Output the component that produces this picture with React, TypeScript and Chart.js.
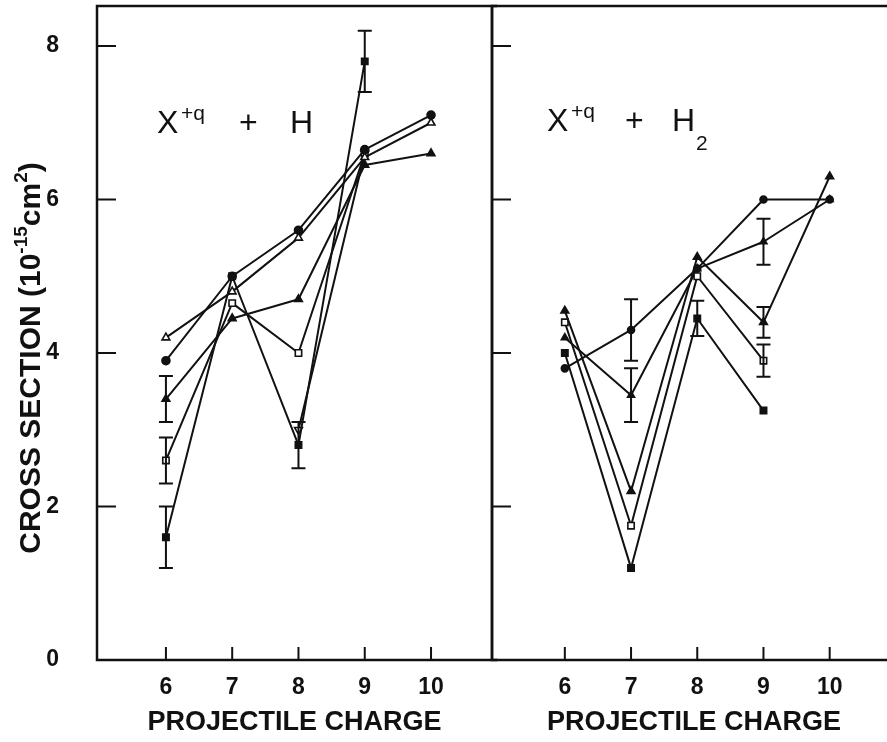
import React, { useEffect, useRef } from "react";
import { Chart, registerables } from "chart.js";

Chart.register(...registerables);

// ---------- data ----------
const CHARGES = [6, 7, 8, 9, 10];
const X_TICKS = [6, 7, 8, 9, 10];
const Y_TICKS = [0, 2, 4, 6, 8];

// Left panel: X^{+q} + H
const H_OPEN_TRI = [4.2, 4.8, 5.5, 6.55, 7.0];
const H_CIRCLE = [3.9, 5.0, 5.6, 6.65, 7.1];
const H_TRI = [3.4, 4.45, 4.7, 6.45, 6.6];
const H_TRI_ERR = [0.3, 0, 0, 0, 0];
const H_OPEN_SQ = [2.6, 4.65, 4.0, 6.6, null];
const H_OPEN_SQ_ERR = [0.3, 0, 0, 0, 0];
const H_SQ = [1.6, 5.0, 2.8, 7.8, null];
const H_SQ_ERR = [0.4, 0, 0.3, 0.4, 0];
const H_INV_TRI = [null, null, 3.0, 6.6, null];

// Right panel: X^{+q} + H2
const H2_TRI = [4.55, 2.2, 5.25, 4.4, 6.3];
const H2_TRI_ERR = [0, 0, 0, 0.2, 0];
const H2_OPEN_SQ = [4.4, 1.75, 5.0, 3.9, null];
const H2_OPEN_SQ_ERR = [0, 0, 0, 0.21, 0];
const H2_SQ = [4.0, 1.2, 4.45, 3.25, null];
const H2_SQ_ERR = [0, 0, 0.23, 0, 0];
const H2_CIRCLE = [3.8, 4.3, 5.1, 6.0, 6.0];
const H2_CIRCLE_ERR = [0, 0.4, 0, 0, 0];
const H2_SMALL_TRI = [4.2, 3.45, 5.1, 5.45, 6.0];
const H2_SMALL_TRI_ERR = [0, 0.35, 0, 0.3, 0];

const X_TITLE = "PROJECTILE CHARGE";
const Y_TITLE_PARTS = [
  { t: "CROSS SECTION (10", sup: false },
  { t: "-15", sup: true },
  { t: "cm", sup: false },
  { t: "2", sup: true },
  { t: ")", sup: false },
];

// ---------- styling ----------
const INK = "#111";
const FONT = "'Liberation Sans', Arial, sans-serif";

type Series = {
  values: (number | null)[];
  errs?: number[];
  style: "triangle" | "circle" | "rect";
  filled: boolean;
  rotation?: number;
  radius?: number;
};

function makeDataset(s: Series) {
  return {
    data: CHARGES.map((c, i) => ({ x: c, y: s.values[i] })),
    borderColor: INK,
    borderWidth: 2,
    pointStyle: s.style,
    pointRadius: s.radius ?? 4.5,
    pointRotation: s.rotation ?? 0,
    pointBackgroundColor: s.filled ? INK : "#fff",
    pointBorderColor: INK,
    pointBorderWidth: 1.6,
    spanGaps: false,
    tension: 0,
    fill: false,
    errs: s.errs,
  };
}

const LEFT_SERIES: Series[] = [
  { values: H_OPEN_TRI, style: "triangle", filled: false },
  { values: H_CIRCLE, style: "circle", filled: true, radius: 4 },
  { values: H_TRI, errs: H_TRI_ERR, style: "triangle", filled: true },
  { values: H_OPEN_SQ, errs: H_OPEN_SQ_ERR, style: "rect", filled: false, radius: 4.5 },
  { values: H_SQ, errs: H_SQ_ERR, style: "rect", filled: true, radius: 4.5 },
  { values: H_INV_TRI, style: "triangle", filled: false, rotation: 180 },
];

const RIGHT_SERIES: Series[] = [
  { values: H2_TRI, errs: H2_TRI_ERR, style: "triangle", filled: true },
  { values: H2_OPEN_SQ, errs: H2_OPEN_SQ_ERR, style: "rect", filled: false, radius: 4.5 },
  { values: H2_SQ, errs: H2_SQ_ERR, style: "rect", filled: true, radius: 4.5 },
  { values: H2_CIRCLE, errs: H2_CIRCLE_ERR, style: "circle", filled: true, radius: 3.5 },
  { values: H2_SMALL_TRI, errs: H2_SMALL_TRI_ERR, style: "triangle", filled: true, radius: 4 },
];

// ---------- plugins ----------
function errorBarPlugin() {
  return {
    id: "errbars",
    afterDatasetsDraw(chart: any) {
      const { ctx, scales } = chart;
      const x = scales.x, y = scales.y;
      ctx.save();
      ctx.strokeStyle = INK;
      ctx.lineWidth = 2;
      chart.data.datasets.forEach((ds: any) => {
        if (!ds.errs) return;
        ds.data.forEach((p: any, i: number) => {
          const e = ds.errs[i];
          if (!e || p.y == null) return;
          const px = x.getPixelForValue(p.x);
          const top = y.getPixelForValue(p.y + e);
          const bot = y.getPixelForValue(p.y - e);
          ctx.beginPath();
          ctx.moveTo(px, top);
          ctx.lineTo(px, bot);
          ctx.moveTo(px - 7, top);
          ctx.lineTo(px + 7, top);
          ctx.moveTo(px - 7, bot);
          ctx.lineTo(px + 7, bot);
          ctx.stroke();
        });
      });
      ctx.restore();
    },
  };
}

function framePlugin(sides: { left: boolean; right: boolean }) {
  return {
    id: "frame",
    beforeDatasetsDraw(chart: any) {
      const { ctx, chartArea: a, scales } = chart;
      ctx.save();
      ctx.strokeStyle = INK;
      ctx.lineWidth = 2.5;
      ctx.lineCap = "square";
      ctx.beginPath();
      ctx.moveTo(a.left, a.top);
      ctx.lineTo(a.right + 4, a.top);
      ctx.moveTo(a.left, a.bottom);
      ctx.lineTo(a.right + 4, a.bottom);
      if (sides.left) {
        ctx.moveTo(a.left, a.top);
        ctx.lineTo(a.left, a.bottom);
      }
      if (sides.right) {
        ctx.moveTo(a.right, a.top);
        ctx.lineTo(a.right, a.bottom);
      }
      ctx.stroke();
      // inward tick marks
      ctx.lineWidth = 2;
      ctx.beginPath();
      Y_TICKS.forEach((v) => {
        if (v === 0) return;
        const py = scales.y.getPixelForValue(v);
        ctx.moveTo(a.left, py);
        ctx.lineTo(a.left + 18, py);
      });
      X_TICKS.forEach((v) => {
        const px = scales.x.getPixelForValue(v);
        ctx.moveTo(px, a.bottom);
        ctx.lineTo(px, a.bottom - 12);
      });
      ctx.stroke();
      ctx.restore();
    },
  };
}

function textPlugin(draw: (ctx: CanvasRenderingContext2D) => void) {
  return {
    id: "texts",
    afterDraw(chart: any) {
      const ctx = chart.ctx as CanvasRenderingContext2D;
      ctx.save();
      ctx.fillStyle = INK;
      ctx.textBaseline = "alphabetic";
      ctx.textAlign = "left";
      draw(ctx);
      ctx.restore();
    },
  };
}

function drawYTitle(ctx: CanvasRenderingContext2D) {
  const big = `bold 30px ${FONT}`;
  const small = `bold 19px ${FONT}`;
  let total = 0;
  Y_TITLE_PARTS.forEach((p) => {
    ctx.font = p.sup ? small : big;
    total += ctx.measureText(p.t).width;
  });
  ctx.save();
  ctx.translate(29, 358);
  ctx.rotate(-Math.PI / 2);
  let cx = -total / 2;
  Y_TITLE_PARTS.forEach((p) => {
    ctx.font = p.sup ? small : big;
    ctx.fillText(p.t, cx, p.sup ? -2 : 11);
    cx += ctx.measureText(p.t).width;
  });
  ctx.restore();
}

function drawReaction(ctx: CanvasRenderingContext2D, x0: number, base: number, target: string, sub: string | null, gap: number) {
  ctx.font = `32px ${FONT}`;
  ctx.fillText("X", x0, base);
  ctx.font = `21px ${FONT}`;
  ctx.fillText("+q", x0 + 24, base - 13);
  ctx.font = `32px ${FONT}`;
  ctx.fillText("+", x0 + 82 - gap, base);
  ctx.fillText(target, x0 + 133 - 2 * gap, base);
  if (sub) {
    ctx.font = `21px ${FONT}`;
    ctx.fillText(sub, x0 + 157 - 2 * gap, base + 19);
  }
}

function baseOptions(xmin: number, xmax: number, showY: boolean, padLeft: number, padRight: number, yWidth: number) {
  return {
    animation: false,
    responsive: false,
    maintainAspectRatio: false,
    devicePixelRatio: 1,
    layout: { padding: { top: 6, right: padRight, left: padLeft, bottom: 0 } },
    plugins: { legend: { display: false }, tooltip: { enabled: false } },
    elements: { line: { borderJoinStyle: "round" } },
    scales: {
      x: {
        type: "linear",
        min: xmin,
        max: xmax,
        afterBuildTicks: (s: any) => {
          s.ticks = X_TICKS.map((v) => ({ value: v }));
        },
        afterFit: (s: any) => {
          s.height = 82;
          s.paddingLeft = 0;
          s.paddingRight = 0;
        },
        grid: { display: false, drawTicks: false },
        border: { display: false },
        ticks: { padding: 14, color: INK, font: { family: FONT, size: 23, weight: "bold" }, maxRotation: 0, autoSkip: false },
        title: {
          display: true,
          text: X_TITLE,
          color: INK,
          font: { family: FONT, size: 27, weight: "bold" },
          padding: { top: 0, bottom: 3 },
        },
      },
      y: {
        type: "linear",
        min: 0,
        max: 8.52,
        display: showY,
        afterBuildTicks: (s: any) => {
          s.ticks = Y_TICKS.map((v) => ({ value: v }));
        },
        afterFit: (s: any) => {
          s.width = yWidth;
          s.paddingTop = 0;
          s.paddingBottom = 0;
        },
        grid: { display: false, drawTicks: false },
        border: { display: false },
        ticks: { padding: 38, color: INK, font: { family: FONT, size: 23, weight: "bold" } },
      },
    },
  };
}

function Panel(props: {
  series: Series[];
  width: number;
  left: number;
  xmin: number;
  xmax: number;
  showY: boolean;
  padLeft: number;
  padRight: number;
  yWidth: number;
  sides: { left: boolean; right: boolean };
  draw: (ctx: CanvasRenderingContext2D) => void;
}) {
  const ref = useRef<HTMLCanvasElement | null>(null);
  useEffect(() => {
    if (!ref.current) return;
    const chart = new Chart(ref.current, {
      type: "line",
      data: { datasets: props.series.map(makeDataset) as any },
      options: baseOptions(props.xmin, props.xmax, props.showY, props.padLeft, props.padRight, props.yWidth) as any,
      plugins: [framePlugin(props.sides), errorBarPlugin(), textPlugin(props.draw)],
    });
    return () => chart.destroy();
  }, []);
  return (
    <canvas
      ref={ref}
      width={props.width}
      height={742}
      style={{ position: "absolute", left: props.left, top: 0, width: props.width, height: 742 }}
    />
  );
}

export default function App() {
  return (
    <div
      style={{
        position: "fixed",
        left: 0,
        top: 0,
        width: 887,
        height: 742,
        overflow: "hidden",
        background: "#fff",
      }}
    >
      <Panel
        series={LEFT_SERIES}
        width={500}
        left={0}
        xmin={4.96}
        xmax={10.92}
        showY={true}
        padLeft={0}
        padRight={8}
        yWidth={97}
        sides={{ left: true, right: true }}
        draw={(ctx) => {
          drawYTitle(ctx);
          drawReaction(ctx, 157, 133, "H", null, 0);
        }}
      />
      <Panel
        series={RIGHT_SERIES}
        width={420}
        left={482}
        xmin={4.9}
        xmax={11.0}
        showY={false}
        padLeft={10}
        padRight={6}
        yWidth={0}
        sides={{ left: true, right: false }}
        draw={(ctx) => {
          drawReaction(ctx, 547 - 482, 131, "H", "2", 4);
        }}
      />
    </div>
  );
}
